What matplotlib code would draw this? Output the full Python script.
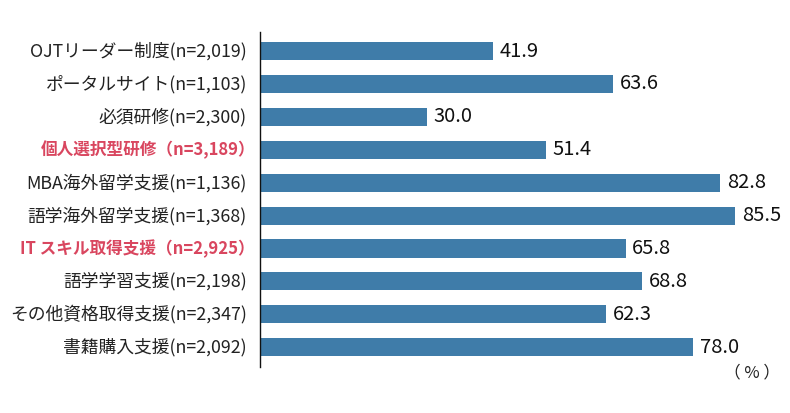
import matplotlib
matplotlib.use("Agg")
import matplotlib.pyplot as plt
import matplotlib.transforms as mtransforms

plt.rcParams['font.family'] = ['Noto Sans CJK JP', 'DejaVu Sans']

# --- data ---
labels = [
    "OJTリーダー制度(n=2,019)",
    "ポータルサイト(n=1,103)",
    "必須研修(n=2,300)",
    "個人選択型研修（n=3,189）",
    "MBA海外留学支援(n=1,136)",
    "語学海外留学支援(n=1,368)",
    "IT スキル取得支援（n=2,925）",
    "語学学習支援(n=2,198)",
    "その他資格取得支援(n=2,347)",
    "書籍購入支援(n=2,092)",
]
values = [41.9, 63.6, 30.0, 51.4, 82.8, 85.5, 65.8, 68.8, 62.3, 78.0]
highlight = [False, False, False, True, False, False, True, False, False, False]

BAR = "#3f7ca9"
RED = "#d9465f"

fig = plt.figure(figsize=(7.9, 4.13), dpi=100)
ax = fig.add_axes([260 / 790, 1 - 367 / 413, 530 / 790, 335 / 413])

ypos = list(range(len(values)))
ax.barh(ypos, values, height=0.55, color=BAR)
ax.set_xlim(0, 530 / 5.556)
ax.set_ylim(9.6, -0.58)

for y, v in zip(ypos, values):
    ax.text(v + 1.2, y, f"{v:.1f}", va="center", ha="left", fontsize=14.5, color="#111111")

# category labels drawn as text so the bold red ones can sit a bit further right
# (their full-width closing paren leaves blank space)
normal_off = mtransforms.ScaledTranslation(-13 / 100, 0, fig.dpi_scale_trans)
red_off = mtransforms.ScaledTranslation(-5 / 100, 0, fig.dpi_scale_trans)
ytrans = ax.get_yaxis_transform()
for y, lab, hl in zip(ypos, labels, highlight):
    if hl:
        ax.text(0, y, lab, transform=ytrans + red_off, ha="right", va="center",
                fontsize=12, fontweight="bold", color=RED)
    else:
        ax.text(0, y, lab, transform=ytrans + normal_off, ha="right", va="center",
                fontsize=12.8, color="#222222")

ax.set_yticks([])
ax.set_xticks([])

for s in ["top", "right", "bottom"]:
    ax.spines[s].set_visible(False)
ax.spines["left"].set_color("#111111")
ax.spines["left"].set_linewidth(1.0)

fig.text(752 / 790, 1 - 373 / 413, "（ % ）", ha="center", va="center", fontsize=12, color="#222222")

fig.savefig("out.png", dpi=100)
